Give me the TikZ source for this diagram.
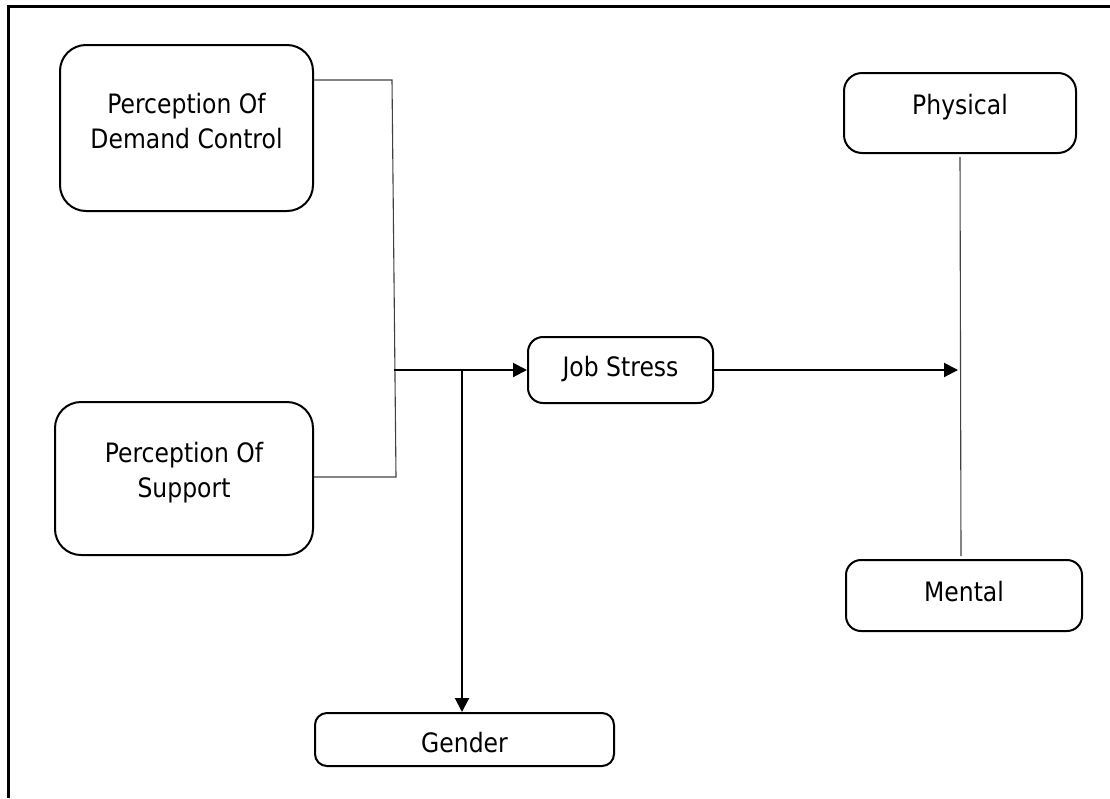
\documentclass[tikz,border=0pt]{standalone}
\usepackage{fontspec}
\setmainfont{DejaVu Sans}[FakeStretch=0.88]
\usetikzlibrary{arrows.meta}
\begin{document}
\begin{tikzpicture}[x=1pt,y=-1pt,
  box/.style={draw=black,line width=2pt,inner sep=0pt},
  lbl/.style={align=center,inner sep=0pt,font=\fontsize{26.7}{35}\selectfont},
  thinline/.style={draw=black!75,line width=1.1pt},
  arrowline/.style={draw=black,line width=2pt,-{Triangle[length=14pt,width=14pt]}}]
\useasboundingbox (0,0) rectangle (1110,798);
% outer frame (only top and left visible)
\draw[line width=3pt] (8,798) -- (8,6) -- (1110,6);
% boxes
\node[box,rounded corners=26pt,minimum width=253pt,minimum height=166pt,
  label={[lbl,yshift=6.5pt]center:Perception Of\\Demand Control}] (demand) at (186.5,128) {};
\node[box,rounded corners=26pt,minimum width=258pt,minimum height=153pt,
  label={[lbl,yshift=6pt]center:Perception Of\\Support}] (support) at (184,478.5) {};
\node[box,rounded corners=15pt,minimum width=185pt,minimum height=66pt,
  label={[lbl,yshift=1pt]center:Job Stress}] (job) at (620.5,370) {};
\node[box,rounded corners=18pt,minimum width=232pt,minimum height=80pt,
  label={[lbl,yshift=5.5pt]center:Physical}] (physical) at (960,113) {};
\node[box,rounded corners=15pt,minimum width=236pt,minimum height=71pt,
  label={[lbl,yshift=3.5pt]center:Mental}] (mental) at (964,595.5) {};
\node[box,rounded corners=12pt,minimum width=299pt,minimum height=53pt,
  label={[lbl,yshift=-3pt]center:Gender}] (gender) at (464.5,739.5) {};
% coordinates
\coordinate (j1) at (392,80);
\coordinate (j2) at (396,477);
\coordinate (jm) at (394,370);
\coordinate (jb) at (462,370);
\coordinate (tip) at (958,370);
\coordinate (v1) at (960,157);
\coordinate (v2) at (961,556);
% connectors
\draw[thinline] (demand.east |- j1) -- (j1) -- (j2) -- (support.east |- j2);
\draw[arrowline] (jm) -- (job.west);
\draw[arrowline] (jb) -- (jb |- gender.north);
\draw[arrowline] (job.east) -- (tip);
\draw[thinline] (v1) -- (v2);
\end{tikzpicture}
\end{document}
